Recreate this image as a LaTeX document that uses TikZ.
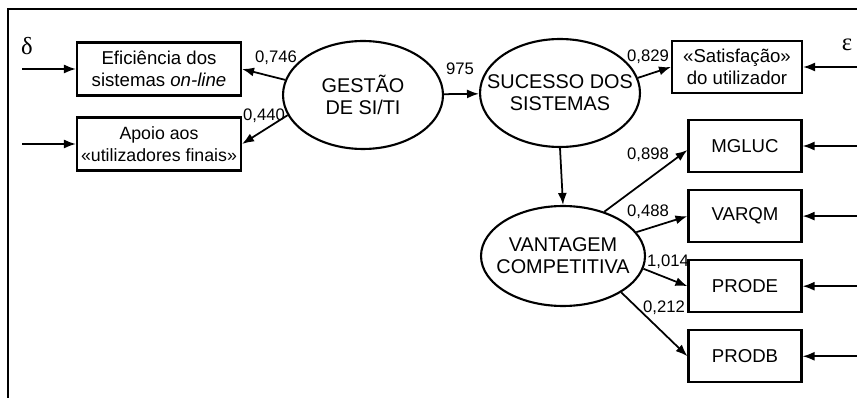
\documentclass[tikz,border=0pt]{standalone}
\usepackage{fontspec}
\setmainfont{Liberation Sans}
\newfontfamily\greek{Liberation Serif}
\usepackage{tikz}
\usetikzlibrary{shapes,arrows.meta,positioning,calc}

\begin{document}
\begin{tikzpicture}[
    x=0.02cm, y=-0.02cm,
    ind/.style={rectangle, draw=black, line width=1.2pt, align=center, inner sep=0pt, font=\fontsize{10.6}{12.2}\selectfont},
    wide/.style={ind, minimum width=3.28cm, minimum height=1.06cm},
    sat/.style={ind, minimum width=2.6cm, minimum height=1.03cm},
    small/.style={ind, minimum width=2.26cm, minimum height=1.04cm},
    latent/.style={ellipse, draw=black, line width=1.2pt, align=center, inner xsep=-0.5cm, inner ysep=-0.3cm, minimum width=3.2cm, minimum height=2.16cm, font=\fontsize{11.3}{12.5}\selectfont},
    coef/.style={inner sep=0pt, font=\fontsize{9.5}{10}\selectfont},
    arrow/.style={-{Latex[length=0.24cm, width=0.18cm]}, line width=1pt}
]
    \useasboundingbox (0,0) rectangle (857,398);
    % frame (only top and left edges show)
    \draw [line width=1.3pt] (8,398) -- (8,9) -- (857,9);

    % latent variables
    \node [latent] (gest) at (363,95) {GEST\~AO\\DE SI/TI};
    \node [latent] (suc) at (560,93) {SUCESSO DOS\\SISTEMAS};
    \node [latent, minimum width=3.28cm, minimum height=2.0cm] (vant) at (563,256) {VANTAGEM\\COMPETITIVA};

    % indicators
    \node [wide] (efic) at (159,69) {Efici\^encia dos\\sistemas \textit{on-line}};
    \node [wide, font=\fontsize{10.1}{12.2}\selectfont] (apoio) at (159,144) {Apoio aos\\\guillemotleft utilizadores finais\guillemotright};
    \node [sat] (satisf) at (737,67) {\guillemotleft Satisfa\c{c}\~ao\guillemotright\\do utilizador};
    \node [small] (mgluc) at (745,146) {MGLUC};
    \node [small, below=0.32cm of mgluc] (varqm) {VARQM};
    \node [small, below=0.32cm of varqm] (prode) {PRODE};
    \node [small, below=0.32cm of prode] (prodb) {PRODB};

    % error terms
    \node [font=\greek\fontsize{14}{14}\selectfont] (delta) at (27,46) {δ};
    \node [font=\greek\fontsize{14}{14}\selectfont] (eps) at (847,45) {ε};
    \coordinate (d1) at (22,69);
    \coordinate (d2) at (22,144);
    \foreach \n in {satisf,mgluc,varqm,prode,prodb}
        \coordinate (e-\n) at ($(\n.east)+(55,0)$);

    % paths
    \draw [arrow] (gest.169) -- (efic.east);
    \draw [arrow] (gest.195) -- (apoio.east);
    \draw [arrow] (gest) -- (suc);
    \draw [arrow] (suc.11) -- (satisf.west);
    \draw [arrow] (suc.south) -- (vant.north);
    \draw [arrow] (vant.47) -- ([yshift=-4*0.02cm]mgluc.west);
    \draw [arrow] (vant.18) -- (varqm.west);
    \draw [arrow] (vant.-9) -- (prode.west);
    \draw [arrow] (vant.-32) -- (prodb.west);
    \draw [arrow] (d1) -- (efic.west);
    \draw [arrow] (d2) -- (apoio.west);
    \foreach \n in {satisf,mgluc,varqm,prode,prodb}
        \draw [arrow] (e-\n) -- (\n.east);

    % coefficients
    \node [coef] (c1) at (276,58) {0,746};
    \node [coef] (c2) at (264,116) {0,440};
    \node [coef] (c3) at (460,69) {975};
    \node [coef] (c4) at (648,57) {0,829};
    \node [coef] (c5) at (648,155) {0,898};
    \node [coef] (c6) at (648,212) {0,488};
    \node [coef] (c7) at (668,262) {1,014};
    \node [coef] (c8) at (664,308) {0,212};
\end{tikzpicture}
\end{document}
